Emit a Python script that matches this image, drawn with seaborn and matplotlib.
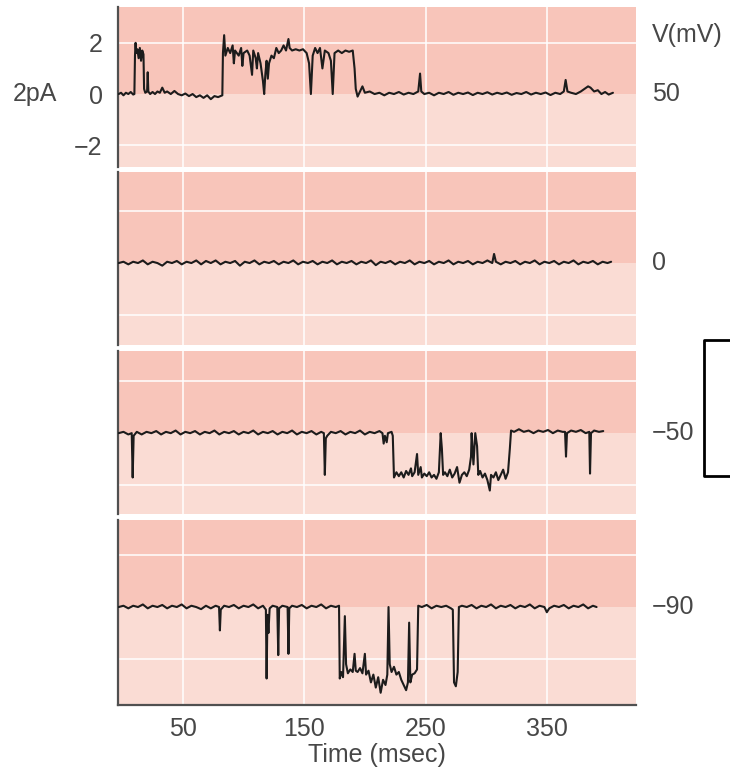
import matplotlib
matplotlib.use("Agg")
import matplotlib.pyplot as plt
import seaborn as sns
import pandas as pd
from matplotlib.lines import Line2D
from matplotlib import transforms

# membrane voltage of each sweep (mV) and the current traces (msec, pA)
volt_labels = ["50", "0", "\u221250", "\u221290"]
x_ticks = [50, 150, 250, 350]
y_ticks_top = [-2, 0, 2]

trace_50 = [
    (-3, 0.0), (-1, 0.05), (1, -0.05), (3, 0.05), (5, 0.0), (7, 0.08), (9, -0.02), (10, 0.0),
    (10.5, 1.5), (11, 2.0), (11.5, 1.6), (12.5, 1.75), (13.5, 1.4), (14.5, 1.8), (15.5, 1.3),
    (16.5, 1.7), (17.5, 1.55), (18, 0.2), (19, 0.05), (20.5, 0.1), (21, 0.85), (21.5, 0.1),
    (23, 0.0), (25, 0.08), (27, 0.0), (29, 0.1), (31, 0.05), (33, 0.25), (35, 0.05), (37, 0.1),
    (40, 0.0), (43, 0.12), (46, 0.0), (49, -0.05), (52, 0.02), (55, -0.08), (58, 0.0),
    (61, -0.12), (64, -0.05), (67, -0.15), (70, -0.05), (73, -0.2), (76, -0.08), (79, -0.12),
    (82.5, -0.05), (83, 1.6), (84, 2.3), (85, 1.5), (87, 1.8), (89, 1.6), (91, 1.9), (92, 1.2),
    (93, 1.7), (96, 1.5), (98, 1.8), (99, 1.1), (100, 1.6), (103, 1.7), (105, 1.5), (107, 0.75),
    (108, 1.7), (110, 1.4), (111, 1.0), (112, 1.6), (114, 1.2), (116, 0.5), (117, 0.0),
    (118, 0.8), (119, 1.3), (120, 0.6), (121, 1.2), (123, 1.5), (125, 1.4), (127, 1.8),
    (129, 1.6), (131, 1.7), (133, 1.9), (135, 1.7), (137, 2.15), (138, 1.8), (140, 1.7),
    (143, 1.75), (146, 1.7), (149, 1.75), (152, 1.6), (154, 1.2), (155.5, 0.0), (157, 1.5),
    (159, 1.8), (161, 1.6), (163, 1.8), (165, 1.0), (167, 1.7), (170, 1.6), (172, 1.3),
    (173.5, 0.0), (175, 1.6), (178, 1.7), (181, 1.6), (184, 1.7), (187, 1.65), (190, 1.7),
    (191.5, 1.0), (192.5, 0.2), (194, -0.1), (196, 0.1), (198, 0.3), (200, 0.05), (204, 0.1),
    (208, 0.0), (212, 0.05), (216, -0.05), (220, 0.05), (224, 0.0), (228, 0.08), (232, -0.02),
    (236, 0.05), (240, 0.0), (244, 0.1), (245.5, 0.8), (246.5, 0.1), (249, 0.0), (253, 0.05),
    (257, -0.05), (261, 0.05), (265, 0.0), (269, 0.08), (273, -0.03), (277, 0.05), (281, 0.0),
    (285, 0.06), (289, -0.04), (293, 0.05), (297, 0.0), (301, 0.07), (305, -0.02), (309, 0.05),
    (313, 0.0), (317, 0.06), (321, -0.03), (325, 0.04), (329, 0.0), (333, 0.08), (337, -0.02),
    (341, 0.05), (345, 0.0), (349, 0.06), (353, -0.04), (357, 0.05), (361, 0.0), (364, 0.1),
    (365.5, 0.55), (367, 0.1), (370, 0.05), (374, 0.0), (378, 0.1), (381, 0.2), (384, 0.3),
    (386, 0.25), (389, 0.1), (392, 0.15), (395, 0.0), (398, 0.08), (401, -0.02), (404.5, 0.05),
]

trace_0 = [
    (-3, 0.0), (1, 0.05), (5, -0.05), (9, 0.05), (13, 0.0), (17, 0.1), (21, -0.05), (25, 0.05),
    (29, 0.0), (33, -0.1), (37, 0.05), (41, 0.0), (45, 0.08), (49, -0.05), (53, 0.05), (57, 0.0),
    (61, 0.1), (65, -0.05), (69, 0.08), (73, 0.0), (77, 0.1), (81, -0.05), (85, 0.05), (89, 0.0),
    (93, 0.08), (97, -0.1), (101, 0.05), (105, 0.0), (109, 0.1), (113, -0.05), (117, 0.05),
    (121, 0.0), (125, 0.08), (129, -0.05), (133, 0.05), (137, 0.0), (141, 0.1), (145, -0.05),
    (149, 0.05), (153, 0.0), (157, 0.08), (161, -0.05), (165, 0.05), (169, 0.0), (173, 0.1),
    (177, -0.05), (181, 0.05), (185, 0.0), (189, 0.08), (193, -0.05), (197, 0.05), (201, 0.0),
    (205, 0.1), (209, -0.08), (213, 0.05), (217, 0.0), (221, 0.08), (225, -0.05), (229, 0.05),
    (233, 0.0), (237, 0.1), (241, -0.05), (245, 0.05), (249, 0.0), (253, 0.08), (257, -0.05),
    (261, 0.05), (265, 0.0), (269, 0.1), (273, -0.05), (277, 0.05), (281, 0.0), (285, 0.08),
    (289, -0.05), (293, 0.05), (297, 0.0), (301, 0.1), (305, 0.0), (306.5, 0.35), (308, 0.05),
    (312, -0.05), (316, 0.05), (320, 0.0), (324, 0.08), (328, -0.05), (332, 0.05), (336, 0.0),
    (340, 0.1), (344, -0.05), (348, 0.05), (352, 0.0), (356, 0.08), (360, -0.05), (364, 0.05),
    (368, 0.0), (372, 0.1), (376, -0.05), (380, 0.05), (384, 0.0), (388, 0.08), (392, -0.05),
    (396, 0.05), (400, 0.0), (403, 0.05),
]

trace_m50 = [
    (-3, 0.0), (1, 0.05), (5, -0.05), (7.8, 0.0), (8.6, -1.7), (9.4, -0.1), (12, 0.05),
    (16, -0.05), (20, 0.05), (24, 0.0), (28, 0.08), (32, -0.05), (36, 0.05), (40, 0.0),
    (44, 0.1), (48, -0.05), (52, 0.05), (56, 0.0), (60, 0.08), (64, -0.05), (68, 0.05),
    (72, 0.0), (76, 0.1), (80, -0.05), (84, 0.05), (88, 0.0), (92, 0.08), (96, -0.05),
    (100, 0.05), (104, 0.0), (108, 0.1), (112, -0.05), (116, 0.05), (120, 0.0), (124, 0.08),
    (128, -0.05), (132, 0.05), (136, 0.0), (140, 0.1), (144, -0.05), (148, 0.05), (152, 0.0),
    (156, 0.08), (160, -0.05), (164, 0.05), (166.2, 0.0), (167, -1.6), (167.8, -0.2),
    (169, -0.1), (172, 0.05), (176, 0.0), (180, 0.08), (184, -0.05), (188, 0.05), (192, 0.0),
    (196, 0.1), (200, -0.05), (204, 0.05), (208, 0.0), (212, 0.08), (214.5, 0.0),
    (215.5, -0.4), (216.5, -0.1), (218, -0.35), (219, 0.0), (222, 0.05), (223, -0.1),
    (224, -1.7), (226, -1.5), (228, -1.65), (230, -1.5), (232, -1.7), (234, -1.45), (236, -1.6),
    (238, -1.35), (239, -1.65), (241, -1.5), (243, -0.8), (244, -1.6), (246, -1.3), (247, -1.7),
    (249, -1.55), (251, -1.65), (253, -1.5), (255, -1.7), (257, -1.6), (259, -1.75), (261, -1.5),
    (262.5, 0.0), (263.5, -0.6), (264.5, -1.6), (266, -1.5), (268, -1.65), (270, -1.4),
    (272, -1.7), (274, -1.55), (276, -1.3), (278, -1.9), (280, -1.6), (282, -1.5), (284, -1.65),
    (286, -1.4), (287.5, -0.9), (288, 0.0), (289.5, -1.2), (291, 0.0), (292.5, -0.5),
    (293.5, -1.6), (295, -1.45), (297, -1.7), (299, -1.55), (301, -1.8), (303, -2.2),
    (304, -1.6), (306, -1.7), (308, -1.5), (310, -1.8), (312, -1.6), (314, -1.4), (316, -1.75),
    (318, -1.5), (319.5, -0.6), (320.5, 0.1), (323, 0.05), (327, 0.15), (331, 0.05), (335, 0.1),
    (339, 0.0), (343, 0.1), (347, 0.05), (351, 0.12), (355, 0.0), (359, 0.1), (363, 0.05),
    (365, 0.05), (365.8, -0.9), (366.6, 0.0), (370, 0.1), (374, 0.05), (378, 0.12),
    (382, 0.0), (385, 0.05), (385.6, -1.55), (386.4, 0.0), (389, 0.1), (393, 0.05),
    (396.5, 0.08),
]

trace_m90 = [
    (-3, 0.0), (1, 0.05), (5, -0.05), (9, 0.05), (13, 0.0), (17, 0.1), (21, -0.05), (25, 0.05),
    (29, 0.0), (33, 0.08), (37, -0.05), (41, 0.05), (45, 0.0), (49, 0.1), (53, -0.05),
    (57, 0.05), (61, 0.0), (65, -0.08), (69, 0.05), (73, -0.05), (77, 0.05), (79.8, 0.0),
    (80.5, -0.9), (81.2, -0.1), (84, 0.05), (88, 0.0), (92, 0.08), (96, -0.05), (100, 0.05),
    (104, 0.0), (108, 0.1), (112, -0.05), (116, 0.05), (118.4, -0.1), (119, -2.75),
    (119.7, -0.3), (120.5, -1.0), (121.5, -0.05), (124, 0.05), (127.8, 0.0), (128.6, -1.85),
    (129.3, -0.05), (132, 0.05), (136.3, 0.0), (137, -1.8), (137.7, -0.05), (140, 0.05),
    (144, 0.0), (148, 0.08), (152, -0.05), (156, 0.05), (160, 0.0), (164, 0.1), (168, -0.05),
    (172, 0.05), (176, 0.0), (178.7, 0.05), (179.3, -2.75), (180.5, -2.5), (182, -2.7),
    (183.5, -0.35), (184.5, -2.2), (186, -2.55), (188, -2.4), (190, -2.5), (191.5, -1.8),
    (192.5, -2.45), (194, -2.5), (196, -2.35), (198, -2.55), (200, -1.8), (201, -2.6),
    (203, -2.45), (205, -2.9), (207, -2.6), (209, -3.1), (211, -2.7), (213, -3.3), (215, -2.8),
    (217, -3.0), (218.5, -2.6), (219.5, 0.0), (220.5, -2.2), (222, -2.5), (224, -2.3),
    (226, -2.6), (228, -2.5), (230, -2.8), (232, -3.0), (234, -3.2), (235.5, -2.9),
    (236.5, -0.6), (237.5, -2.9), (239, -2.6), (241, -2.55), (243, -2.4), (244, 0.05),
    (247, 0.0), (251, 0.08), (255, -0.05), (259, 0.05), (263, 0.0), (267, 0.05), (271, -0.05),
    (272.5, -0.1), (273.5, -2.9), (275, -3.05), (276.5, -2.5), (277.5, 0.0), (280, 0.05),
    (284, 0.0), (288, 0.08), (292, -0.05), (296, 0.05), (300, 0.0), (304, 0.1), (308, -0.05),
    (312, 0.05), (316, 0.0), (320, 0.08), (324, -0.05), (328, 0.05), (332, 0.0), (336, 0.1),
    (340, -0.05), (344, 0.05), (348, 0.0), (350, -0.2), (352, -0.05), (356, 0.05), (360, 0.0),
    (364, 0.08), (368, -0.05), (372, 0.05), (376, 0.0), (380, 0.1), (384, -0.05), (388, 0.05),
    (391, 0.0),
]

traces = [trace_50, trace_0, trace_m50, trace_m90]
y_limits = [(-2.85, 3.4), (-3.15, 3.5), (-3.1, 3.15), (-3.77, 3.35)]

sns.set_theme(style="white")
plt.rcParams["font.family"] = ["Liberation Sans", "DejaVu Sans"]
text_col = "#474747"
dark_pink = "#F8C5BA"
light_pink = "#FADCD4"

fig = plt.figure(figsize=(7.30, 7.69), dpi=100)
W, H = 730, 769
# panel pixel bounds (top, bottom)
panel_px = [(7, 167), (172, 345), (351, 514), (520, 705)]
left_px, right_px = 118, 636

axes = []
for k, (top, bot) in enumerate(panel_px):
    ax = fig.add_axes([left_px / W, 1 - bot / H, (right_px - left_px) / W, (bot - top) / H])
    axes.append(ax)
    y0, y1 = y_limits[k]
    ax.set_facecolor(light_pink)
    ax.axhspan(0, y1, color=dark_pink, lw=0, zorder=0)
    for xv in x_ticks:
        ax.axvline(xv, color="white", lw=1.1, zorder=1)
    for yv in (-2, 2):
        ax.axhline(yv, color="white", lw=1.1, zorder=1)

    df = pd.DataFrame(traces[k], columns=["time", "current"])
    sns.lineplot(data=df, x="time", y="current", ax=ax, estimator=None, sort=False,
                 color="#1c1c1c", lw=1.5, zorder=3)

    ax.set_xlim(-3.5, 423.5)
    ax.set_ylim(y0, y1)
    ax.grid(False)
    ax.set_ylabel("")
    ax.set_xlabel("")
    for s in ["top", "right", "bottom"]:
        ax.spines[s].set_visible(False)
    ax.spines["left"].set_color("#505050")
    ax.spines["left"].set_linewidth(1.6)
    ax.tick_params(length=0, labelsize=18, colors=text_col)
    ax.set_xticks(x_ticks)
    ax.set_xticklabels([] if k < 3 else [str(v) for v in x_ticks])
    if k == 0:
        ax.set_yticks(y_ticks_top)
        ax.set_yticklabels(["\u22122", "0", "2"])
        ax.tick_params(axis="y", pad=11)
    else:
        ax.set_yticks([])

    trans = transforms.blended_transform_factory(ax.transAxes, ax.transData)
    ax.text(1.031, 0, volt_labels[k], transform=trans, ha="left", va="center",
            fontsize=18, color=text_col)

axes[0].text(1.031, 2.3, "V(mV)", transform=transforms.blended_transform_factory(
    axes[0].transAxes, axes[0].transData), ha="left", va="center", fontsize=18, color=text_col)
axes[0].text(-0.203, 0, "2pA", transform=transforms.blended_transform_factory(
    axes[0].transAxes, axes[0].transData), ha="left", va="center", fontsize=18, color=text_col)

bottom_ax = axes[3]
bottom_ax.spines["bottom"].set_visible(True)
bottom_ax.spines["bottom"].set_color("#505050")
bottom_ax.spines["bottom"].set_linewidth(1.6)
bottom_ax.tick_params(axis="x", pad=9)
bottom_ax.set_xlabel("Time (msec)", fontsize=18, color=text_col, labelpad=1)

# bracket on the right edge
bx = 704 / W
fig.add_artist(Line2D([1.0, bx, bx, 1.0], [1 - 340 / H, 1 - 340 / H, 1 - 476 / H, 1 - 476 / H],
                      transform=fig.transFigure, color="black", lw=2, clip_on=False))

fig.savefig("out.png", dpi=100, facecolor="white")
